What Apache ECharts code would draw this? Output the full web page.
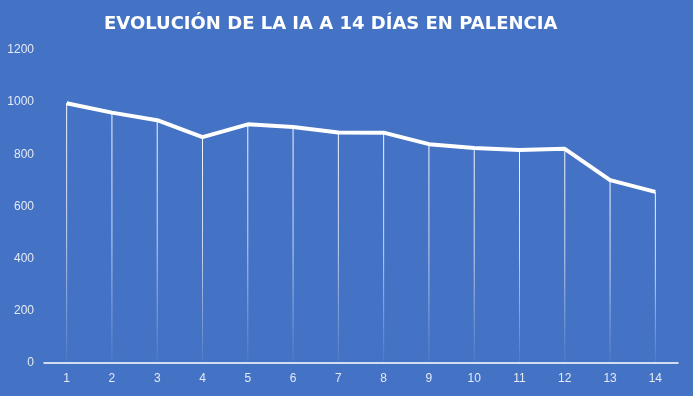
<!DOCTYPE html>
<html>
<head>
<meta charset="utf-8">
<script src="https://cdn.jsdelivr.net/npm/echarts@6/dist/echarts.min.js"></script>
<style>
    html, body { margin: 0; padding: 0; background: #4472C4; }
    #chart { width: 693px; height: 396px; }
</style>
</head>
<body>
<div id="chart"></div>
<script>
// datos
const dias = ['1', '2', '3', '4', '5', '6', '7', '8', '9', '10', '11', '12', '13', '14']
const ia = [996, 960, 931, 866, 915, 905, 884, 883, 839, 824, 817, 821, 701, 656]

const myChart = echarts.init(document.getElementById('chart'))
const option = {
    backgroundColor: '#4472C4',
    title: {
        text: 'EVOLUCIÓN DE LA IA A 14 DÍAS EN PALENCIA',
        left: 99,
        top: 10,
        textStyle: {
            color: '#fff',
            fontFamily: 'DejaVu Sans',
            fontWeight: 'bold',
            fontSize: 18
        }
    },
    grid: {
        left: 44,
        right: 15,
        top: 50,
        bottom: 33
    },
    xAxis: {
        type: 'category',
        data: dias,
        axisTick: { show: false },
        axisLabel: {
            color: '#e4eaf6',
            fontFamily: 'Liberation Sans',
            fontSize: 12,
            margin: 10
        },
        axisLine: {
            lineStyle: {
                color: '#fff',
                width: 1.5
            }
        }
    },
    yAxis: {
        type: 'value',
        min: 0,
        max: 1200,
        interval: 200,
        axisLabel: {
            color: '#e4eaf6',
            fontFamily: 'Liberation Sans',
            fontSize: 12,
            margin: 10,
            formatter: v => String(v)
        },
        axisLine: { show: false },
        axisTick: { show: false },
        splitLine: { show: false }
    },
    series: [
        {
            // líneas verticales
            type: 'bar',
            barWidth: 1,
            silent: true,
            itemStyle: {
                color: new echarts.graphic.LinearGradient(0, 0, 0, 1, [
                    { offset: 0, color: 'rgba(255,255,255,0.95)' },
                    { offset: 0.5, color: 'rgba(255,255,255,0.7)' },
                    { offset: 1, color: 'rgba(255,255,255,0.05)' }
                ])
            },
            data: ia
        },
        {
            type: 'line',
            showSymbol: false,
            lineStyle: {
                color: '#fff',
                width: 4
            },
            data: ia
        }
    ]
}
myChart.setOption(option)
</script>
</body>
</html>
